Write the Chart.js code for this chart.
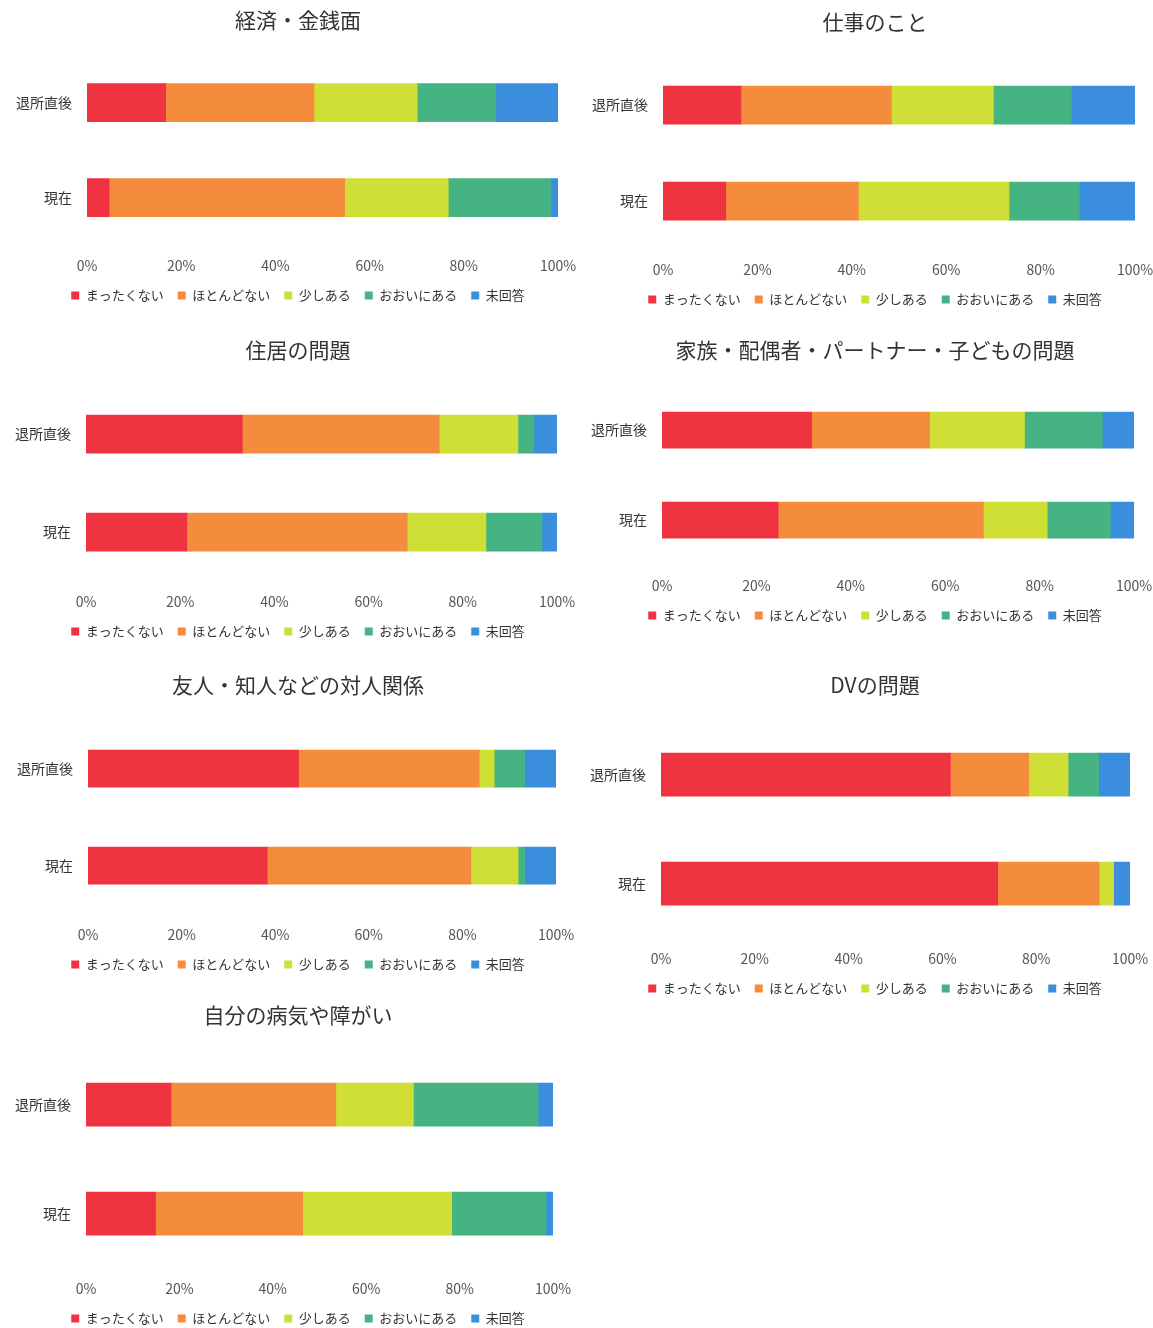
<!DOCTYPE html>
<html lang="ja">
<head>
<meta charset="utf-8">
<title>退所後の困りごと</title>
<script src="https://cdn.jsdelivr.net/npm/chart.js@4/dist/chart.umd.min.js"></script>
<style>
  html, body { margin: 0; padding: 0; background: #fff; overflow: hidden; }
  body { width: 1153px; height: 1328px; position: relative; }
  canvas { position: absolute; }
</style>
</head>
<body>
<canvas id="c1"></canvas>
<canvas id="c2"></canvas>
<canvas id="c3"></canvas>
<canvas id="c4"></canvas>
<canvas id="c5"></canvas>
<canvas id="c6"></canvas>
<canvas id="c7"></canvas>
<script>
/* データ（グラフから読み取った割合 %）
   並び: まったくない, ほとんどない, 少しある, おおいにある, 未回答 */
const categories = ["退所直後", "現在"];
const seriesNames = ["まったくない", "ほとんどない", "少しある", "おおいにある", "未回答"];
const seriesColors = ["#EF3340", "#F58B3C", "#CFDF35", "#45B482", "#3B8EDE"];
const tickValues = [0, 20, 40, 60, 80, 100];

const keizaiBefore = [16.7, 31.5, 21.9, 16.7, 13.2];
const keizaiNow = [4.7, 50.0, 22.0, 21.8, 1.5];

const shigotoBefore = [16.5, 31.9, 21.6, 16.5, 13.5];
const shigotoNow = [13.3, 28.1, 31.9, 14.9, 11.8];

const jukyoBefore = [33.2, 41.8, 16.7, 3.4, 4.9];
const jukyoNow = [21.4, 46.8, 16.7, 11.9, 3.2];

const kazokuBefore = [31.7, 25.0, 20.1, 16.5, 6.7];
const kazokuNow = [24.6, 43.5, 13.5, 13.4, 5.0];

const yujinBefore = [45.0, 38.6, 3.2, 6.5, 6.7];
const yujinNow = [38.3, 43.5, 10.1, 1.4, 6.7];

const dvBefore = [61.7, 16.7, 8.4, 6.5, 6.7];
const dvNow = [71.8, 21.6, 3.1, 0, 3.5];

const byokiBefore = [18.2, 35.3, 16.6, 26.7, 3.2];
const byokiNow = [14.9, 31.5, 31.9, 20.2, 1.5];

// パネル配置（位置・サイズ）。areaLeft = プロット領域の左端、pad = 左右の余白
const panels = [
  { id: "c1", title: "経済・金銭面", before: keizaiBefore, now: keizaiNow, left: 0, top: 0, width: 596, gap: 95, bar: 38, areaLeft: 87, pad: 38 },
  { id: "c2", title: "仕事のこと", before: shigotoBefore, now: shigotoNow, left: 580, top: 2, width: 590, gap: 96, bar: 38, areaLeft: 83, pad: 35 },
  { id: "c3", title: "住居の問題", before: jukyoBefore, now: jukyoNow, left: 0, top: 330, width: 596, gap: 98, bar: 38, areaLeft: 86, pad: 39 },
  { id: "c4", title: "家族・配偶者・パートナー・子どもの問題", before: kazokuBefore, now: kazokuNow, left: 580, top: 330, width: 590, gap: 90, bar: 36, areaLeft: 82, pad: 36 },
  { id: "c5", title: "友人・知人などの対人関係", before: yujinBefore, now: yujinNow, left: 0, top: 665, width: 596, gap: 97, bar: 37, areaLeft: 88, pad: 40 },
  { id: "c6", title: "DVの問題", before: dvBefore, now: dvNow, left: 580, top: 665, width: 590, gap: 109, bar: 43, areaLeft: 81, pad: 40 },
  { id: "c7", title: "自分の病気や障がい", before: byokiBefore, now: byokiNow, left: 0, top: 995, width: 596, gap: 109, bar: 43, areaLeft: 86, pad: 43 },
];

const FONT = "'Noto Sans CJK JP', 'Noto Sans', sans-serif";
const X_AXIS_HEIGHT = 30;
const Y_LABEL_SIZE = 14;
const Y_LABEL_GAP = 15;

// y軸ラベルの最大幅（mirror 表示でプロット左側に右寄せするため）
function widestLabel() {
  const ctx = document.createElement("canvas").getContext("2d");
  ctx.font = `${Y_LABEL_SIZE}px ${FONT}`;
  return Math.max(...categories.map((c) => ctx.measureText(c).width));
}

function buildChart(p, labelWidth) {
  const canvas = document.getElementById(p.id);
  const height = p.gap * 2 + 122;
  canvas.width = p.width;
  canvas.height = height;
  canvas.style.left = p.left + "px";
  canvas.style.top = p.top + "px";
  canvas.style.width = p.width + "px";
  canvas.style.height = height + "px";

  const datasets = seriesNames.map((name, i) => ({
    label: name,
    data: [p.before[i], p.now[i]],
    backgroundColor: seriesColors[i],
    borderWidth: 0,
    barThickness: p.bar,
  }));

  new Chart(canvas, {
    type: "bar",
    data: { labels: categories, datasets },
    options: {
      indexAxis: "y",
      responsive: false,
      animation: false,
      devicePixelRatio: 1,
      layout: { padding: { left: p.pad, right: p.pad, top: 0, bottom: 0 } },
      scales: {
        x: {
          stacked: true,
          min: 0,
          max: 100,
          afterBuildTicks: (axis) => { axis.ticks = tickValues.map((v) => ({ value: v })); },
          afterFit: (axis) => {
            axis.height = X_AXIS_HEIGHT;
            axis.paddingLeft = 0;
            axis.paddingRight = 0;
          },
          grid: { display: false, drawTicks: false },
          border: { display: false },
          ticks: {
            padding: 12,
            color: "#555",
            font: { family: FONT, size: 14 },
            callback: (v) => v + "%",
          },
        },
        y: {
          stacked: true,
          afterFit: (axis) => { axis.width = p.areaLeft - p.pad; },
          grid: { display: false, drawTicks: false },
          border: { display: false },
          ticks: {
            mirror: true,
            crossAlign: "far",
            padding: -(Y_LABEL_GAP + labelWidth),
            color: "#333",
            font: { family: FONT, size: Y_LABEL_SIZE },
          },
        },
      },
      plugins: {
        title: {
          display: true,
          text: p.title,
          color: "#333",
          font: { family: FONT, size: 21, weight: "normal" },
          padding: { top: 7, bottom: 23 },
        },
        legend: {
          position: "bottom",
          labels: {
            boxWidth: 8,
            boxHeight: 8,
            padding: 14,
            color: "#333",
            font: { family: FONT, size: 13 },
          },
        },
        tooltip: { enabled: false },
      },
    },
  });
}

const labelWidth = widestLabel();
panels.forEach((p) => buildChart(p, labelWidth));
</script>
</body>
</html>
